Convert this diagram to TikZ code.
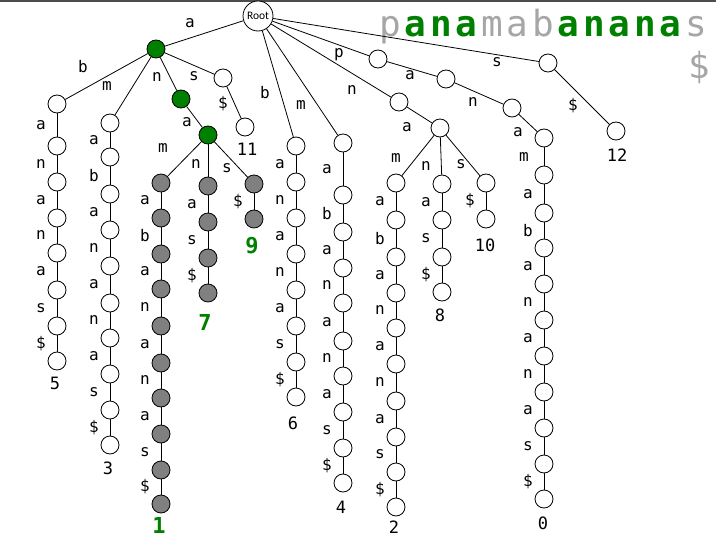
\documentclass[tikz,border=0pt]{standalone}
\usepackage{fontspec}
\setmainfont{Carlito}
\newfontfamily\mono{DejaVu Sans Mono}
\definecolor{tgreen}{RGB}{0,128,0}
\definecolor{tgray}{RGB}{128,128,128}
\definecolor{lgray}{RGB}{166,166,166}
\tikzset{
 wn/.style={circle,draw=black,line width=0.8pt,fill=white,minimum size=18pt,inner sep=0pt},
 gnode/.style={wn,fill=tgreen},
 ynode/.style={wn,fill=tgray},
 rootnode/.style={wn,minimum size=30pt,font=\fontsize{11.5}{11.5}\selectfont},
 lab/.style={font=\mono\fontsize{16}{16}\selectfont,inner sep=0pt},
 num/.style={font=\mono\fontsize{17}{17}\selectfont,inner sep=0pt},
 bnum/.style={font=\mono\bfseries\fontsize{22}{22}\selectfont,text=tgreen,inner sep=0pt},
 edge/.style={line width=0.8pt},
 bigg/.style={font=\mono\fontsize{36}{36}\selectfont,anchor=base,inner sep=0pt,text=lgray},
 bign/.style={font=\mono\bfseries\fontsize{36}{36}\selectfont,anchor=base,inner sep=0pt,text=tgreen},
}
\newcommand\mychain[4]{%
  \foreach \yy/\ll [count=\i, remember=\i as \j (initially 0)] in {#4}{
    \node[#3] (#1-\i) at (#2,\yy) {};
    \draw[edge] (#1-\j) -- (#1-\i) coordinate[midway] (#1-m\i);
    \node[lab] at ([xshift=-16pt]#1-m\i) {\ll};
  }%
}
\newcommand\ed[4]{\draw[edge] (#1) -- (#2); \node[lab] at (#3) {#4};}
\begin{document}
\begin{tikzpicture}[x=1pt,y=-1pt]
\useasboundingbox (0,0) rectangle (716,538);
\fill[white] (0,0) rectangle (716,538);
\fill[gray!60!black] (0,0) rectangle (716,1.5);
% big text
\node[bigg] (t0) at (390,37) {p};
\node[bign] (t1) at (415.5,37) {a};
\node[bign] (t2) at (441,37) {n};
\node[bign] (t3) at (466.5,37) {a};
\node[bigg] (t4) at (492,37) {m};
\node[bigg] (t5) at (517.5,37) {a};
\node[bigg] (t6) at (543,37) {b};
\node[bign] (t7) at (568.5,37) {a};
\node[bign] (t8) at (594,37) {n};
\node[bign] (t9) at (619.5,37) {a};
\node[bign] (t10) at (645,37) {n};
\node[bign] (t11) at (670.5,37) {a};
\node[bigg] (t12) at (696,37) {s};
\node[bigg] (t13) at (699,78) {\$};
% nodes
\node[rootnode] (R) at (258,16) {Root};
\node[gnode] (A) at (156,49) {};
\node[wn] (ab-0) at (57,104) {};
\node[wn] (am-0) at (110,123) {};
\node[gnode] (AN) at (181,99) {};
\node[gnode] (ANA) at (208,135) {};
\node[ynode] (g1-0) at (161,183) {};
\node[ynode] (g2-0) at (208,186) {};
\node[ynode] (g3-0) at (254,184) {};
\node[wn] (AS) at (223,78) {};
\node[wn] (AS1) at (245,127) {};
\node[wn] (rb-0) at (296,146) {};
\node[wn] (rm-0) at (343,143) {};
\node[wn] (RN) at (399,102) {};
\node[wn] (RNA) at (440,128) {};
\node[wn] (n1-0) at (396,183) {};
\node[wn] (n2-0) at (442,184) {};
\node[wn] (n3-0) at (486,183) {};
\node[wn] (RP) at (378,59) {};
\node[wn] (RPA) at (446,79) {};
\node[wn] (RPAN) at (512,108) {};
\node[wn] (RPANA) at (544,138) {};
\node[wn] (p-0) at (544,175) {};
\node[wn] (RS) at (548,63) {};
\node[wn] (RS1) at (616,131) {};
% edges
\ed{R}{A}{190,23}{a}
\ed{A}{ab-0}{83,67}{b}
\ed{A}{am-0}{107,86}{m}
\ed{A}{AN}{157,77}{n}
\ed{A}{AS}{194,76}{s}
\ed{AS}{AS1}{223,104}{\$}
\ed{AN}{ANA}{187,122}{a}
\ed{ANA}{g1-0}{163,148}{m}
\ed{ANA}{g2-0}{196,164}{n}
\ed{ANA}{g3-0}{227,168}{s}
\ed{R}{rb-0}{265,93}{b}
\ed{R}{rm-0}{301,105}{m}
\ed{R}{RP}{339,55}{p}
\ed{R}{RN}{352,90}{n}
\ed{RP}{RPA}{410,75}{a}
\ed{RPA}{RPAN}{473,102}{n}
\ed{RPAN}{RPANA}{518,132}{a}
\ed{RPANA}{p-0}{524,157}{m}
\ed{R}{RS}{497,62}{s}
\ed{RS}{RS1}{573,106}{\$}
\ed{RN}{RNA}{407,127}{a}
\ed{RNA}{n1-0}{396,158}{m}
\ed{RNA}{n2-0}{426,166}{n}
\ed{RNA}{n3-0}{461,164}{s}
% chains
\mychain{ab}{57}{wn}{146/a,182/n,218/a,253/n,290/a,326/s,361/\$}
\mychain{am}{110}{wn}{157/a,194/b,230/a,266/n,303/a,338/n,374/a,410/s,445/\$}
\mychain{g1}{161}{ynode}{218/a,254/b,289/a,326/n,363/a,398/n,434/a,470/s,504/\$}
\mychain{g2}{208}{ynode}{222/a,258/s,293/\$}
\mychain{g3}{254}{ynode}{219/\$}
\mychain{rb}{296}{wn}{182/a,218/n,254/a,290/n,326/a,362/s,397/\$}
\mychain{rm}{343}{wn}{195/a,232/b,268/a,303/n,341/a,376/n,412/a,448/s,483/\$}
\mychain{n1}{396}{wn}{220/a,257/b,293/a,328/n,364/a,401/n,437/a,472/s,507/\$}
\mychain{n2}{442}{wn}{220/a,257/s,292/\$}
\mychain{n3}{486}{wn}{219/\$}
\mychain{p}{544}{wn}{213/a,248/b,284/a,320/n,356/a,392/n,428/a,464/s,499/\$}
% leaf numbers
\node[num] (L5) at (55,383) {5};
\node[num] (L3) at (108,468) {3};
\node[bnum] (L1) at (159,525) {1};
\node[bnum] (L7) at (205,322) {7};
\node[bnum] (L9) at (252,246) {9};
\node[num] (L11) at (247,149) {11};
\node[num] (L6) at (293,423) {6};
\node[num] (L4) at (341,507) {4};
\node[num] (L2) at (394,527) {2};
\node[num] (L8) at (440,315) {8};
\node[num] (L10) at (485,245) {10};
\node[num] (L0) at (543,523) {0};
\node[num] (L12) at (617,155) {12};
\end{tikzpicture}
\end{document}
